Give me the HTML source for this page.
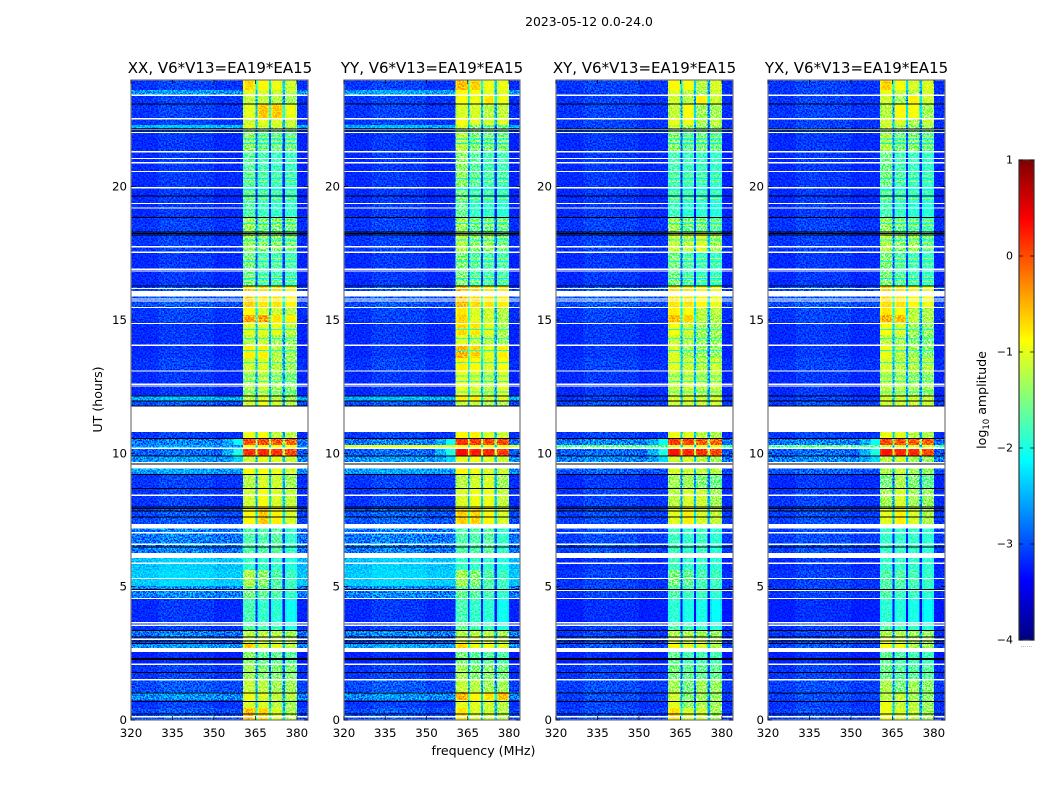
<!DOCTYPE html>
<html>
<head>
<meta charset="utf-8">
<title>2023-05-12 waterfall</title>
<style>
html,body{margin:0;padding:0;background:#fff;}
svg{display:block;font-family:"DejaVu Sans","Liberation Sans",sans-serif;fill:#000;}
.ht{font-size:15px;}
.tk{font-size:11.8px;}
</style>
</head>
<body>
<svg id="fig" xmlns="http://www.w3.org/2000/svg" width="1050" height="800" viewBox="0 0 1050 800">
  <defs>
    <filter id="speckle" x="0" y="0" width="100%" height="100%" color-interpolation-filters="sRGB">
      <feTurbulence type="fractalNoise" baseFrequency="0.62" numOctaves="2" seed="7"/>
      <feColorMatrix type="matrix" values="1 0 0 0 0  1 0 0 0 0  1 0 0 0 0  0 0 0 0 1"/>
      <feComponentTransfer>
        <feFuncR type="linear" slope="4.2" intercept="-1.6"/>
        <feFuncG type="linear" slope="4.2" intercept="-1.6"/>
        <feFuncB type="linear" slope="4.2" intercept="-1.6"/>
      </feComponentTransfer>
    </filter>
    <linearGradient id="jetGradient" x1="0" y1="1" x2="0" y2="0"></linearGradient>
  </defs>
  <rect x="0" y="0" width="1050" height="800" fill="#fff"/>
  <text x="589" y="26" text-anchor="middle" font-size="12.4">2023-05-12 0.0-24.0</text>
  <text transform="translate(102,399.5) rotate(-90)" text-anchor="middle" font-size="12.6">UT (hours)</text>
  <text x="483.5" y="755" text-anchor="middle" font-size="12.6">frequency (MHz)</text>
  <text transform="translate(986,400) rotate(-90)" text-anchor="middle" font-size="12.6">log<tspan font-size="8.5" dy="3">10</tspan><tspan dy="-3"> amplitude</tspan></text>
  <g id="panels"></g>
  <g id="colorbar"></g>
</svg>
<script>
/* ---------- data ---------- */
const panelNames = ['XX', 'YY', 'XY', 'YX'];
const panelTitles = ['XX, V6*V13=EA19*EA15', 'YY, V6*V13=EA19*EA15', 'XY, V6*V13=EA19*EA15', 'YX, V6*V13=EA19*EA15'];
const xTickValues = [320, 335, 350, 365, 380];
const yTickValues = [0, 5, 10, 15, 20];
const colorbarTicks = [-4, -3, -2, -1, 0, 1];
const colorbarTickLabels = ['\u22124', '\u22123', '\u22122', '\u22121', '0', '1'];

/* UT edges (hours) of the time blocks, top to bottom */
const timeEdges = [24,23.62,23.43,23.1,22.57,22.31,22.2,22,21.3,20,18.86,18.3,17.55,16.27,15.49,15.19,14.92,14.44,14.06,13.57,13.09,12.15,11.96,11.77,10.8,10.57,10.31,10.22,9.9,9.45,9.22,8.7,7.95,7.35,6.26,5.62,5.02,4.57,3.67,3.37,3.11,2.85,2.55,2.06,1.5,1.05,0.75,0.45,0];

/* frequency bin edges (MHz), the column each bin reads, and its bandpass offset */
const freqEdges = [320,330,340,350,353,357,360.5,361.2,364.3,365.1,365.7,366.4,369.2,369.9,370.6,371.3,374.1,374.8,375.7,376.4,379.3,380,384];
const binColumn = [0,0,0,0,0,0,1,1,1,1,2,2,2,2,3,3,3,3,4,4,4,0];
const binOffset = [-0.03,0.06,0.04,-0.04,-0.02,-0.02,-0.15,0,-0.1,-1.4,-0.15,0,-0.1,-1.4,-0.15,0,-0.1,-1.4,-0.15,0,-0.12,-0.06];

/* log10 amplitude per time block: [background, spw1, spw2, spw3, spw4] */
const xxLevels = [[-3.1,-.7,-.85,-.95,-1.1],[-2.65,-1,-1.05,-1.1,-1.2],[-3.1,-1.15,-1.15,-1.2,-1.3],[-3.1,-1,-.6,-.6,-.95],[-3.1,-1.1,-1,-1.05,-1.1],[-2.45,-1,-1.1,-1.1,-1.2],[-3,-1.4,-1.5,-1.5,-1.5],[-3.15,-1.45,-1.7,-1.65,-1.65],[-3.15,-1.65,-1.75,-1.8,-1.8],[-3.15,-1.7,-1.8,-1.85,-1.85],[-3.1,-1.35,-1.55,-1.5,-1.55],[-3.1,-1.4,-1.5,-1.5,-1.6],[-3.15,-1.55,-1.75,-1.75,-1.8],[-3,-.65,-.75,-.75,-.85],[-3.1,-.85,-1.05,-1.1,-1.2],[-3.1,-.45,-.4,-.75,-.8],[-3.15,-1,-1,-.95,-1.15],[-3.15,-1.2,-1.1,-1.3,-1.35],[-3.15,-.8,-.8,-1.2,-1.3],[-3.1,-1.1,-1,-1.2,-1.3],[-3.15,-1.25,-1.1,-1.3,-1.4],[-2.5,-1.2,-1.05,-1.2,-1.3],[-3,-1.1,-.95,-1.1,-1.2],[-3,-1,-.85,-1,-1.1],[-3.1,-.95,-.9,-1.15,-1.2],[-2.8,0,0,-.05,-.1],[-2.6,-.9,-.9,-.9,-.9],[-2.9,.15,.2,.15,.05],[-2.65,-1.1,-1,-1,-1.1],[-2.6,-.9,-.9,-.95,-1.1],[-3.1,-1.2,-1.05,-1.1,-1.3],[-3.1,-1.1,-.9,-1.05,-1.15],[-3,-.85,-.6,-.8,-1.05],[-2.8,-1.7,-1.7,-1.65,-1.85],[-2.4,-1.85,-1.85,-1.85,-1.95],[-2.35,-1.25,-1.4,-1.7,-1.8],[-2.75,-1.5,-1.6,-1.7,-1.85],[-3.15,-1.75,-1.85,-1.9,-2.05],[-3.1,-1.65,-1.75,-1.8,-1.95],[-2.8,-1.2,-1.2,-1.2,-1.3],[-3,-1.1,-1.1,-1.1,-1.2],[-2.65,-.65,-1.05,-1,-1.2],[-3.2,-1.4,-1.6,-1.6,-1.65],[-3.1,-1.3,-1.45,-1.45,-1.45],[-3,-1.15,-1.2,-1.3,-1.3],[-2.7,-.95,-1.05,-1.15,-1.2],[-3.1,-1.05,-1.05,-1.2,-1.3],[-3,-.55,-.65,-1.05,-1.25]];
const yyLevels = [[-3.1,-.55,-.65,-.95,-.95],[-2.6,-.85,-.9,-1,-1],[-3.1,-.9,-.95,-.75,-.95],[-3.1,-1.05,-1.05,-1.2,-1.15],[-3.1,-.9,-1,-1.05,-1],[-2.5,-1.05,-1.5,-1.6,-1.6],[-3,-1.4,-1.5,-1.55,-1.55],[-3.15,-1.2,-1.55,-1.6,-1.6],[-3.15,-1.4,-1.65,-1.75,-1.75],[-3.15,-1.6,-1.85,-1.85,-1.9],[-3.1,-1.35,-1.6,-1.55,-1.6],[-3.1,-1.25,-1.5,-1.4,-1.6],[-3.15,-1.5,-1.7,-1.75,-1.75],[-3,-.55,-.7,-.75,-.8],[-3.1,-.75,-1.05,-1.1,-1.2],[-3.1,-.65,-1,-1.1,-1.25],[-3.15,-.7,-.75,-1,-1.25],[-3.15,-1,-1.15,-1.2,-1.3],[-3.15,-.5,-.65,-1,-.8],[-3.1,-.8,-.85,-1.05,-.9],[-3.15,-.95,-1.05,-1.2,-1],[-2.5,-.8,-.8,-1.1,-1],[-3,-1.15,-1.15,-1.25,-1.25],[-3,-1,-1,-1,-1],[-3.1,-.85,-.8,-1.05,-1.1],[-2.8,.15,.1,.05,.05],[-1,-.9,-.9,-.9,-.9],[-2.9,.35,.25,.2,.1],[-2.65,-1,-.95,-1,-1.1],[-2.6,-.85,-.95,-1.05,-1.1],[-3.1,-1.2,-1.1,-1.05,-1.3],[-3.1,-1.05,-.95,-.95,-1.15],[-2.95,-.65,-.65,-.85,-1.05],[-2.8,-1.7,-1.7,-1.65,-1.85],[-2.4,-1.85,-1.85,-1.85,-1.95],[-2.35,-1.3,-1.45,-1.7,-1.8],[-2.75,-1.6,-1.65,-1.75,-1.85],[-3.15,-1.75,-1.85,-1.9,-2.05],[-3.1,-1.6,-1.75,-1.8,-1.95],[-2.75,-1.25,-1.2,-1.2,-1.3],[-3,-1.05,-1.05,-1.1,-1.15],[-2.6,-.7,-.95,-.9,-1],[-3.2,-1.5,-1.65,-1.65,-1.7],[-3.1,-1.3,-1.45,-1.4,-1.5],[-3,-1.15,-1.2,-1.3,-1.3],[-2.7,-.5,-.85,-.75,-.55],[-3.1,-1,-1,-1.1,-1.2],[-3,-.75,-1.05,-1.1,-1.2]];
const xyLevels = [[-3.1,-.85,-.9,-1.2,-1.05],[-3.1,-1,-1.15,-1.3,-1.1],[-3.1,-1.1,-1.2,-.8,-1.1],[-3.1,-1.15,-.9,-1.3,-1.3],[-3.1,-1,-.9,-1.25,-1.15],[-3.1,-1.1,-1.3,-1.4,-1.3],[-3,-1.4,-1.5,-1.5,-1.5],[-3.15,-1.5,-1.75,-1.6,-1.7],[-3.15,-1.75,-1.8,-1.8,-1.85],[-3.15,-1.8,-1.9,-1.9,-1.95],[-3.1,-1.35,-1.6,-1.55,-1.7],[-3.1,-1.15,-1.2,-1,-1.35],[-3.15,-1.55,-1.75,-1.85,-1.85],[-3,-.75,-.75,-.85,-.95],[-3.1,-.8,-.9,-1.2,-1.2],[-3.1,-.55,-.65,-1.2,-1.25],[-3.15,-.9,-1.1,-1.3,-1.3],[-3.15,-1.1,-1.2,-1.35,-1.35],[-3.15,-1.05,-1.3,-1.35,-1.35],[-3.1,-1,-1.1,-1.2,-1.1],[-3.15,-1.15,-1.1,-1.2,-1.15],[-3.1,-1.1,-1.05,-1.15,-1.1],[-3.05,-1.1,-1.1,-1.1,-1.1],[-3,-1,-1,-1,-1],[-3.1,-.95,-1,-1.2,-1.25],[-2.8,.1,.05,-.05,-.1],[-1.6,-1.1,-1,-1,-1],[-2.9,.3,.2,.15,.05],[-2.75,-1.1,-1.05,-1.2,-1.3],[-2.95,-1.05,-1.1,-1.15,-1.2],[-3.15,-1.3,-1.3,-1.45,-1.55],[-3.1,-1.2,-1.05,-1.1,-1.3],[-3.05,-1,-.8,-1.05,-1.15],[-3.05,-1.8,-1.85,-1.8,-1.9],[-3.15,-1.8,-1.85,-1.85,-1.9],[-3.1,-1.5,-1.6,-1.75,-1.8],[-3.1,-1.7,-1.8,-1.8,-1.9],[-3.2,-1.9,-2,-2,-2.1],[-3.1,-1.7,-1.8,-1.85,-1.95],[-3.1,-1.25,-1.25,-1.3,-1.35],[-3.05,-1.1,-1.1,-1.1,-1.25],[-3,-.85,-1,-1.05,-1.25],[-3.2,-1.6,-1.75,-1.75,-1.75],[-3.1,-1.5,-1.6,-1.6,-1.6],[-3.05,-1.3,-1.5,-1.3,-1.35],[-3.05,-1.1,-1.45,-1.3,-1.35],[-3.1,-1,-1.4,-1.25,-1.3],[-3.05,-.7,-1.05,-1.1,-1.3]];
const yxLevels = [[-3.1,-.65,-.9,-1.05,-1.05],[-3.1,-.95,-1.1,-1.2,-1.05],[-3.1,-1.1,-1.3,-.8,-1.1],[-3.1,-1.2,-.85,-.9,-1.3],[-3.1,-1.1,-1,-1.25,-1.15],[-3.1,-1.1,-1.3,-1.4,-1.3],[-3,-1.4,-1.5,-1.5,-1.5],[-3.15,-1.25,-1.6,-1.5,-1.65],[-3.15,-1.55,-1.75,-1.8,-1.85],[-3.15,-1.75,-1.85,-1.9,-1.95],[-3.1,-1.4,-1.6,-1.65,-1.75],[-3.1,-1.25,-1.5,-1.35,-1.65],[-3.15,-1.5,-1.7,-1.8,-1.85],[-3,-.7,-.75,-.85,-.95],[-3.1,-.75,-.9,-1.2,-1.25],[-3.1,-.5,-.55,-1.15,-1.25],[-3.15,-.9,-1.05,-1.3,-1.35],[-3.15,-1.15,-1.25,-1.4,-1.45],[-3.15,-.95,-1.2,-1.3,-1.4],[-3.1,-1.05,-1.2,-1.2,-1.2],[-3.15,-1.15,-1.2,-1.3,-1.3],[-3.1,-1.1,-1.1,-1.1,-1.15],[-3.05,-1.1,-1.1,-1.1,-1.1],[-3,-1,-1,-1,-1],[-3.1,-.95,-1,-1.2,-1.25],[-2.8,.05,0,-.05,-.1],[-1.6,-1.2,-1.1,-1.1,-1.1],[-2.9,.3,.2,.2,.05],[-2.75,-1.2,-1.1,-1.3,-1.35],[-2.95,-1.25,-1.15,-1.3,-1.35],[-3.15,-1.5,-1.25,-1.45,-1.6],[-3.1,-1.3,-1.05,-1.3,-1.35],[-3.05,-1,-.8,-1.05,-1.25],[-3.05,-1.85,-1.85,-1.85,-1.9],[-3.15,-1.85,-1.85,-1.85,-1.9],[-3.1,-1.7,-1.7,-1.75,-1.85],[-3.1,-1.7,-1.8,-1.8,-1.9],[-3.2,-1.9,-1.95,-2,-2.1],[-3.1,-1.7,-1.8,-1.85,-1.95],[-3.1,-1.25,-1.25,-1.3,-1.35],[-3.05,-1.05,-1.1,-1.25,-1.3],[-3,-.9,-.95,-1.25,-1.3],[-3.2,-1.6,-1.7,-1.75,-1.8],[-3.1,-1.55,-1.65,-1.65,-1.65],[-3.05,-1.25,-1.5,-1.3,-1.4],[-3.05,-1.2,-1.15,-1.3,-1.4],[-3.1,-.95,-1.15,-1.2,-1.35],[-3.05,-.95,-1.05,-1.15,-1.3]];
const panelLevels = [xxLevels, yyLevels, xyLevels, yxLevels];

/* rising shoulder below the first spectral window at ~10 UT */
const shoulderBlocks = [25, 27, 28];
const shoulderMid = [-2.55, -2.5, -2.6];
const shoulderNear = [-2.1, -2, -2.3];

/* thin stripes inside the spectral windows: UT hours and level */
const stripeHours = [21.85,21.7,21.55,21.4,20.4,20.2,19.8,19.55,18.7,18.55,18.1,17.9,17.7,17.3,17.1,16.6,16.45,21.78,21.62,20.3,19.9,18.62,18,17.2,16.55,14.65,14.3,13.85,13.4,12.9,12.7,12.3];
const stripeLevels = [-1.15,-1.15,-1.2,-1.2,-1.25,-1.3,-1.3,-1.25,-1.1,-1.15,-1.1,-1.1,-1.15,-1.2,-1.2,-1.25,-1.25,-2.2,-2.2,-2.2,-2.2,-2.1,-2.1,-2.15,-2.2,-2,-1.9,-2,-1.9,-2,-1.9,-2];
const windowEdges = [[360.5,365.1],[365.7,369.9],[370.6,374.8],[375.7,380]];

/* flagged data: white (no data) spans and black (zero) lines, in UT hours */
const blankSpans = [[11.77,10.8],[16.09,15.88],[9.59,9.43],[7.35,7.19],[6.26,6.07],[2.7,2.55],[1.54,1.48]];
const whiteLines = [23.43,22.55,22.14,22.03,21.31,21.06,20.9,20.57,19.96,19.37,19.2,17.75,17.54,16.9,16.84,16.18,15.79,15.71,15.47,14.87,14.05,13.09,12.59,12.52,10.19,9.65,8.43,7.02,6.59,5.88,5.31,4.86,4.56,3.65,3.55,3.03,2.09,0.12];
const blackLines = [23.1,22.17,22.08,19.65,18.85,18.3,18.24,18.18,16.27,12.15,11.96,11.77,10.56,9.9,9.6,9.21,8.69,7.99,7.94,7.83,7.62,6.49,4.9,3.36,3.12,2.97,2.86,2.31,2.27,1.79,1.02,0.69,0.22];

/* ---------- layout and scales ---------- */
const NS = 'http://www.w3.org/2000/svg';
const panelBoxes = [{l:131,r:308},{l:344,r:520},{l:556,r:733},{l:768,r:945}];
const plotTop = 80, plotBottom = 720;
const X_MIN = 320, X_MAX = 384, Y_MIN = 0, Y_MAX = 24;
const V_MIN = -4, V_MAX = 1;
const cbar = {l:1019, r:1034, t:160, b:640};

function xScale(box, f){ return box.l + (f - X_MIN) / (X_MAX - X_MIN) * (box.r - box.l); }
function yScale(h){ return plotBottom - (h - Y_MIN) / (Y_MAX - Y_MIN) * (plotBottom - plotTop); }
function cbarScale(v){ return cbar.b - (v - V_MIN) / (V_MAX - V_MIN) * (cbar.b - cbar.t); }

function jet(v){
  const t = Math.max(0, Math.min(1, (v - V_MIN) / (V_MAX - V_MIN)));
  const seg = (a) => Math.max(0, Math.min(1, a));
  const r = seg(Math.min(4 * t - 1.5, -4 * t + 4.5));
  const g = seg(Math.min(4 * t - 0.5, -4 * t + 3.5));
  const b = seg(Math.min(4 * t + 0.5, -4 * t + 2.5));
  return 'rgb(' + Math.round(r * 255) + ',' + Math.round(g * 255) + ',' + Math.round(b * 255) + ')';
}
function mk(tag, attrs, parent){
  const el = document.createElementNS(NS, tag);
  for (const k in attrs) el.setAttribute(k, attrs[k]);
  parent.appendChild(el);
  return el;
}

const panelsRoot = document.getElementById('panels');
panelNames.forEach(function(name, p){
  const box = panelBoxes[p];
  const levels = panelLevels[p];
  const w = box.r - box.l;
  const g = mk('g', {}, panelsRoot);
  
  

  const clip = mk('clipPath', {id: 'clip' + p}, g);
  mk('rect', {x: box.l, y: plotTop, width: w, height: plotBottom - plotTop}, clip);

  const cells = mk('g', {'shape-rendering': 'crispEdges', 'clip-path': 'url(#clip' + p + ')', style: 'isolation:isolate'}, g);
  
  
  for (let i = 0; i < levels.length; i++) {
    const top = yScale(timeEdges[i]), bot = yScale(timeEdges[i + 1]);
    for (let j = 0; j < binColumn.length; j++) {
      const x0 = xScale(box, freqEdges[j]), x1 = xScale(box, freqEdges[j + 1]);
      let v = levels[i][binColumn[j]] + binOffset[j];
      const sIdx = shoulderBlocks.indexOf(i);
      if (sIdx >= 0 && freqEdges[j] === 353) v = Math.max(v, shoulderMid[sIdx]);
      if (sIdx >= 0 && freqEdges[j] === 357) v = Math.max(v, shoulderNear[sIdx]);
      const cell = mk('rect', {x: x0, y: top, width: x1 - x0 + 0.5, height: bot - top + 0.5, fill: jet(v)}, cells);
      
      
    }
  }
  stripeHours.forEach(function(h, s){
    windowEdges.forEach(function(e){
      const x0 = xScale(box, e[0]), x1 = xScale(box, e[1]);
      const st = mk('rect', {x: x0, y: yScale(h) - 0.5, width: x1 - x0, height: 1, fill: jet(stripeLevels[s])}, cells);
      
      
    });
  });
  const noise = mk('rect', {x: box.l, y: plotTop, width: w, height: plotBottom - plotTop, filter: 'url(#speckle)', style: 'mix-blend-mode:overlay', opacity: 0.85}, cells);
  
  

  const flags = mk('g', {'shape-rendering': 'crispEdges'}, g);
  
  
  blankSpans.forEach(function(s){
    const r = mk('rect', {x: box.l, y: yScale(s[0]), width: w, height: yScale(s[1]) - yScale(s[0]), fill: '#fff'}, flags);
    
    
  });
  whiteLines.forEach(function(h){
    const r = mk('rect', {x: box.l, y: yScale(h) - 0.6, width: w, height: 1.2, fill: '#fff'}, flags);
    
    
  });
  blackLines.forEach(function(h){
    const r = mk('rect', {x: box.l, y: yScale(h) - 0.5, width: w, height: 1, fill: '#000'}, flags);
    
    
  });

  const frame = mk('rect', {x: box.l, y: plotTop, width: w, height: plotBottom - plotTop, fill: 'none', stroke: '#777', 'stroke-width': 1.2}, g);
  
  

  xTickValues.forEach(function(f){
    const x = xScale(box, f);
    const t1 = mk('line', {x1: x, x2: x, y1: plotBottom, y2: plotBottom - 4, stroke: '#000', 'stroke-width': 0.7}, g);
    
    
    const t2 = mk('line', {x1: x, x2: x, y1: plotTop, y2: plotTop + 4, stroke: '#000', 'stroke-width': 0.7}, g);
    
    
    const lab = mk('text', {x: x, y: plotBottom + 17, 'text-anchor': 'middle', class: 'tk'}, g);
    
    
    lab.textContent = String(f);
  });
  yTickValues.forEach(function(h){
    const y = yScale(h);
    const t1 = mk('line', {x1: box.l, x2: box.l + 4, y1: y, y2: y, stroke: '#000', 'stroke-width': 0.7}, g);
    
    
    const t2 = mk('line', {x1: box.r, x2: box.r - 4, y1: y, y2: y, stroke: '#000', 'stroke-width': 0.7}, g);
    
    
    const lab = mk('text', {x: box.l - 4, y: y + 4, 'text-anchor': 'end', class: 'tk'}, g);
    
    
    lab.textContent = String(h);
  });
  const title = mk('text', {x: (box.l + box.r) / 2 + (p === 0 ? 0.5 : 0), y: 73, 'text-anchor': 'middle', class: 'ht'}, g);
  
  
  title.textContent = panelTitles[p];
});

/* colorbar */
const grad = document.getElementById('jetGradient');
for (let k = 0; k <= 40; k++) {
  mk('stop', {offset: (k / 40), 'stop-color': jet(V_MIN + (V_MAX - V_MIN) * k / 40)}, grad);
}
const cb = document.getElementById('colorbar');
const cbRect = mk('rect', {x: cbar.l, y: cbar.t, width: cbar.r - cbar.l, height: cbar.b - cbar.t, fill: 'url(#jetGradient)', stroke: '#333', 'stroke-width': 1.2}, cb);


colorbarTicks.forEach(function(v, i){
  const y = cbarScale(v);
  const a = mk('line', {x1: cbar.l, x2: cbar.l + 4, y1: y, y2: y, stroke: '#000', 'stroke-width': 0.7}, cb);
  
  
  const b = mk('line', {x1: cbar.r, x2: cbar.r - 4, y1: y, y2: y, stroke: '#000', 'stroke-width': 0.7}, cb);
  
  
  const lab = mk('text', {x: cbar.l - 6, y: y + 3.5, 'text-anchor': 'end', 'font-size': 11}, cb);
  
  
  lab.textContent = colorbarTickLabels[i];
});
const dots = mk('text', {x: (cbar.l + cbar.r) / 2, y: 647, 'text-anchor': 'middle', 'font-size': 6, fill: '#777'}, cb);


dots.textContent = '......';
</script>
</body>
</html>
